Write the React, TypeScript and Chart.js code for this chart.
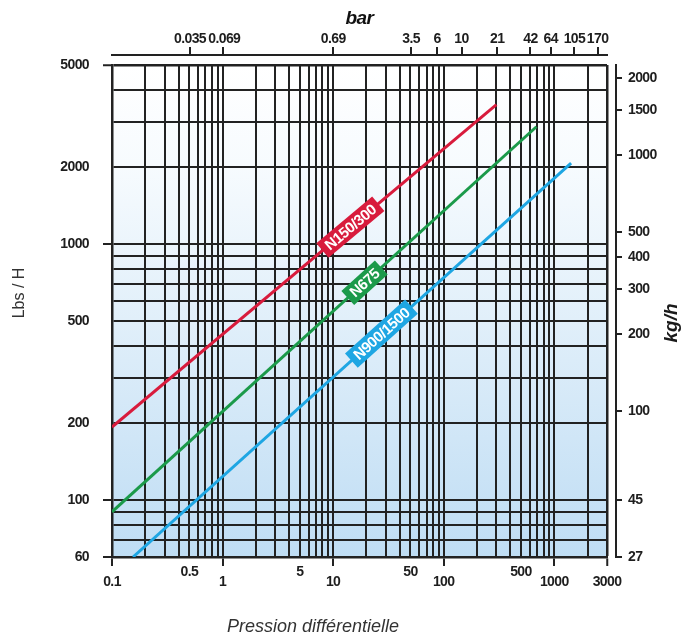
import React, { useEffect, useRef } from 'react';
import { Chart, registerables } from 'chart.js';

Chart.register(...registerables);

// ---- data ----
const PSI_MIN = 0.1;
const PSI_MAX = 3000;
const LBS_MIN = 60;
const LBS_MAX = 5000;
const PSI_TO_BAR = 0.0689476;
const KG_MIN = 27;
const KG_MAX = (KG_MIN * LBS_MAX) / LBS_MIN;

const psiGrid = [
  0.1, 0.2, 0.3, 0.4, 0.5, 0.6, 0.7, 0.8, 0.9,
  1, 2, 3, 4, 5, 6, 7, 8, 9,
  10, 20, 30, 40, 50, 60, 70, 80, 90,
  100, 200, 300, 400, 500, 600, 700, 800, 900,
  1000, 2000, 3000,
];
const psiLowerLabels = [0.1, 1, 10, 100, 1000, 3000];
const psiUpperLabels = [0.5, 5, 50, 500];

const lbsGrid = [60, 70, 80, 90, 100, 200, 300, 400, 500, 600, 700, 800, 900, 1000, 2000, 3000, 4000, 5000];
const lbsLabels = [60, 100, 200, 500, 1000, 2000, 5000];
const lbsTicked = [60, 100, 1000, 5000];

const barTicks = [0.035, 0.069, 0.69, 3.5, 6, 10, 21, 42, 64, 105, 170];
const kgTicks = [27, 45, 100, 200, 300, 400, 500, 1000, 1500, 2000];

const seriesNames = ['N150/300', 'N675', 'N900/1500'];
const n150Psi = [0.1, 300];
const n150Lbs = [193, 3500];
const n675Psi = [0.1, 690];
const n675Lbs = [90, 2870];
const n900Psi = [0.155, 1420];
const n900Lbs = [60, 2070];
const seriesColors = ['#d81b3c', '#1b9a4a', '#1ea6e3'];
const tagAt = [0.62, 0.595, 0.567];

// ---- styles ----
const SANS = "'Liberation Sans', Arial, sans-serif";
const INK = '#1e1e1e';
const GRID = '#222222';

const bgPlugin = {
  id: 'bgGradient',
  beforeDraw(chart: any) {
    const { ctx, chartArea: a } = chart;
    const g = ctx.createLinearGradient(0, a.top, 0, a.bottom);
    g.addColorStop(0, '#ffffff');
    g.addColorStop(0.2, '#f7fbfe');
    g.addColorStop(1, '#bfddf4');
    ctx.save();
    ctx.fillStyle = g;
    ctx.fillRect(a.left, a.top, a.right - a.left, a.bottom - a.top);
    ctx.restore();
    // condensed look for the axis tick labels
    ctx.letterSpacing = '-0.6px';
  },
};

const tagPlugin = {
  id: 'lineTags',
  afterDatasetsDraw(chart: any) {
    const ctx = chart.ctx;
    chart.data.datasets.forEach((ds: any, i: number) => {
      const pts = chart.getDatasetMeta(i).data;
      if (!pts || pts.length < 2) return;
      const p0 = pts[0];
      const p1 = pts[pts.length - 1];
      const t = tagAt[i];
      const x = p0.x + (p1.x - p0.x) * t;
      const y = p0.y + (p1.y - p0.y) * t;
      const ang = Math.atan2(p1.y - p0.y, p1.x - p0.x);
      ctx.save();
      ctx.translate(x, y);
      ctx.rotate(ang);
      ctx.letterSpacing = '-0.4px';
      ctx.font = `bold 15px ${SANS}`;
      const w = ctx.measureText(ds.label).width + 11;
      const h = 19;
      ctx.fillStyle = ds.borderColor;
      ctx.fillRect(-w / 2, -h / 2, w, h);
      ctx.fillStyle = '#ffffff';
      ctx.textAlign = 'center';
      ctx.textBaseline = 'middle';
      ctx.fillText(ds.label, 0, 1);
      ctx.restore();
    });
  },
};

const titlePlugin = {
  id: 'sideTitles',
  afterDraw(chart: any) {
    const ctx = chart.ctx;
    ctx.save();
    ctx.letterSpacing = '0px';
    ctx.textAlign = 'center';
    ctx.textBaseline = 'middle';
    // left title
    ctx.fillStyle = '#333333';
    ctx.font = `16px ${SANS}`;
    ctx.save();
    ctx.translate(20, 293);
    ctx.rotate(-Math.PI / 2);
    ctx.fillText('Lbs / H', 0, 0);
    ctx.restore();
    // right title
    ctx.fillStyle = '#1a1a1a';
    ctx.font = `italic bold 19px ${SANS}`;
    ctx.save();
    ctx.translate(672, 323);
    ctx.rotate(-Math.PI / 2);
    ctx.fillText('kg/h', 0, 0);
    ctx.restore();
    // bottom title
    ctx.fillStyle = '#333333';
    ctx.font = `italic 18px ${SANS}`;
    ctx.fillText('Pression différentielle', 313, 627);
    ctx.restore();
  },
};

const tickFont = { family: SANS, size: 14, weight: 'bold' as const, lineHeight: 1 };

export default function App() {
  const ref = useRef<HTMLCanvasElement | null>(null);

  useEffect(() => {
    if (!ref.current) return;
    const mk = (xs: number[], ys: number[]) => xs.map((x, i) => ({ x, y: ys[i] }));
    const chart = new Chart(ref.current, {
      type: 'line',
      data: {
        datasets: [
          { label: seriesNames[0], data: mk(n150Psi, n150Lbs), borderColor: seriesColors[0], backgroundColor: seriesColors[0], borderWidth: 3, pointRadius: 0, xAxisID: 'x', yAxisID: 'y' },
          { label: seriesNames[1], data: mk(n675Psi, n675Lbs), borderColor: seriesColors[1], backgroundColor: seriesColors[1], borderWidth: 3, pointRadius: 0, xAxisID: 'x', yAxisID: 'y' },
          { label: seriesNames[2], data: mk(n900Psi, n900Lbs), borderColor: seriesColors[2], backgroundColor: seriesColors[2], borderWidth: 3, pointRadius: 0, xAxisID: 'x', yAxisID: 'y' },
        ],
      },
      options: {
        animation: false,
        responsive: false,
        maintainAspectRatio: false,
        layout: { padding: 0 },
        plugins: { legend: { display: false }, tooltip: { enabled: false } },
        scales: {
          x: {
            type: 'logarithmic',
            position: 'bottom',
            min: PSI_MIN,
            max: PSI_MAX,
            weight: 0,
            afterBuildTicks: (s: any) => { s.ticks = psiGrid.map((v) => ({ value: v })); },
            afterFit: (s: any) => { s.height = 84; },
            ticks: {
              autoSkip: false,
              maxRotation: 0,
              minRotation: 0,
              padding: 1,
              color: INK,
              font: { ...tickFont, lineHeight: 0.72 },
              callback: (v: any) => {
                const n = Number(v);
                if (psiLowerLabels.includes(n)) return ['', String(n)];
                if (psiUpperLabels.includes(n)) return [String(n)];
                return '';
              },
            },
            grid: {
              color: GRID,
              lineWidth: (c: any) => (c.tick && c.tick.value === PSI_MAX ? 2.5 : 2),
              tickLength: 9,
              tickWidth: 2,
              tickColor: (c: any) => (c.tick && psiLowerLabels.includes(c.tick.value) ? GRID : 'rgba(0,0,0,0)'),
            },
            border: { display: true, color: GRID, width: 2.5 },
          },
          y: {
            type: 'logarithmic',
            position: 'left',
            min: LBS_MIN,
            max: LBS_MAX,
            afterBuildTicks: (s: any) => { s.ticks = lbsGrid.map((v) => ({ value: v })); },
            afterFit: (s: any) => { s.width = 112; },
            ticks: {
              autoSkip: false,
              padding: 14,
              color: INK,
              font: tickFont,
              callback: (v: any) => (lbsLabels.includes(Number(v)) ? String(v) : ''),
            },
            grid: {
              color: GRID,
              lineWidth: (c: any) => (c.tick && c.tick.value === LBS_MAX ? 2.5 : 2),
              tickLength: 9,
              tickWidth: 2,
              tickColor: (c: any) => (c.tick && lbsTicked.includes(c.tick.value) ? GRID : 'rgba(0,0,0,0)'),
            },
            border: { display: true, color: GRID, width: 2.5 },
          },
          x2: {
            type: 'logarithmic',
            position: 'top',
            weight: 2,
            min: PSI_MIN * PSI_TO_BAR,
            max: PSI_MAX * PSI_TO_BAR,
            afterBuildTicks: (s: any) => { s.ticks = barTicks.map((v) => ({ value: v })); },
            afterFit: (s: any) => { s.height = 55; },
            ticks: {
              autoSkip: false,
              maxRotation: 0,
              minRotation: 0,
              padding: 1,
              color: INK,
              font: tickFont,
              callback: (v: any) => (Number(v) === 0.069 ? ' ' + String(v) : String(v)),
            },
            grid: { drawOnChartArea: false, color: GRID, lineWidth: 2, tickLength: 8 },
            border: { display: true, color: GRID, width: 2 },
            title: {
              display: true,
              text: 'bar',
              color: '#111111',
              font: { family: SANS, size: 19, weight: 'bold', style: 'italic', lineHeight: 1.2 },
              padding: { top: 7, bottom: 0 },
            },
          },
          xgap: {
            type: 'linear',
            position: 'top',
            weight: 1,
            display: true,
            ticks: { display: false },
            grid: { display: false },
            border: { display: false },
            afterFit: (s: any) => { s.height = 10; },
          },
          ygap: {
            type: 'linear',
            position: 'right',
            weight: 1,
            display: true,
            ticks: { display: false },
            grid: { display: false },
            border: { display: false },
            afterFit: (s: any) => { s.width = 9; },
          },
          yk: {
            type: 'logarithmic',
            position: 'right',
            weight: 2,
            min: KG_MIN,
            max: KG_MAX,
            afterBuildTicks: (s: any) => { s.ticks = kgTicks.map((v) => ({ value: v })); },
            afterFit: (s: any) => { s.width = 69; },
            ticks: {
              autoSkip: false,
              padding: 6,
              color: INK,
              font: tickFont,
              callback: (v: any) => String(v),
            },
            grid: { drawOnChartArea: false, color: GRID, lineWidth: 2, tickLength: 6 },
            border: { display: true, color: GRID, width: 2 },
          },
        },
      } as any,
      plugins: [bgPlugin, tagPlugin, titlePlugin],
    });
    return () => chart.destroy();
  }, []);

  return (
    <div style={{ position: 'fixed', left: 0, top: 0, width: 685, height: 641, background: '#ffffff' }}>
      <canvas ref={ref} width={685} height={641} style={{ display: 'block' }} />
    </div>
  );
}
